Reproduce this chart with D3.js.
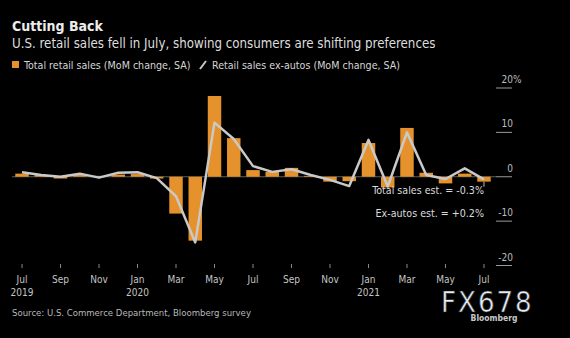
<!DOCTYPE html>
<html>
<head>
<meta charset="utf-8">
<script src="https://cdn.jsdelivr.net/npm/d3@7"></script>
<style>
  html, body { margin: 0; padding: 0; background: #000; }
  svg { display: block; font-family: "DejaVu Sans Condensed", "DejaVu Sans", sans-serif; font-stretch: condensed; }
</style>
</head>
<body>
<svg id="chart" width="570" height="338"></svg>
<script>
// months shown on the x axis, Jul 2019 .. Jul 2021
const months = [
  "2019-07", "2019-08", "2019-09", "2019-10", "2019-11", "2019-12",
  "2020-01", "2020-02", "2020-03", "2020-04", "2020-05", "2020-06",
  "2020-07", "2020-08", "2020-09", "2020-10", "2020-11", "2020-12",
  "2021-01", "2021-02", "2021-03", "2021-04", "2021-05", "2021-06", "2021-07",
];
// total retail sales, MoM % change (bars)
const totalSales = [
  0.7, 0.4, -0.4, 0.5, 0.2, 0.5, 0.6, -0.4, -8.3, -14.4, 18.2, 8.7,
  1.5, 1.1, 2.0, 0.2, -1.1, -1.0, 7.6, -2.4, 11.0, 0.9, -1.5, 0.7, -1.1,
];
// retail sales ex-autos, MoM % change (line)
const exAutos = [
  1.0, 0.4, 0.0, 0.7, -0.2, 0.9, 1.0, -0.3, -4.4, -14.8, 12.2, 8.5,
  2.4, 1.1, 1.7, 0.4, -0.7, -2.1, 8.3, -2.2, 10.0, 0.4, -0.5, 1.9, -0.6,
];
const yTicks = [20, 10, 0, -10, -20];
const xTickMonths = months.filter((d, i) => i % 2 === 0);

const orange = "#e5922c";
const lineColor = "#c9c9c9";

const parseMonth = d3.timeParse("%Y-%m");
const fmtMonth = d3.timeFormat("%b");

const data = months.map((m, i) => ({
  month: m,
  total: totalSales[i],
  ex: exAutos[i],
}));

const svg = d3.select("#chart");

const x = d3.scaleBand()
  .domain(months)
  .range([12.4, 493.6])
  .paddingInner(0.3)
  .paddingOuter(0.15);
const xc = (m) => x(m) + x.bandwidth() / 2;

const y = d3.scaleLinear().domain([-20, 20]).range([265.5, 88]);

// title block
svg.append("text")
  .attr("x", 12).attr("y", 31)
  .attr("fill", "#ececec")
  .attr("font-size", 14).attr("font-weight", "bold")
  .text("Cutting Back");
svg.append("text")
  .attr("x", 12).attr("y", 48)
  .attr("fill", "#dedede")
  .attr("font-size", 13.2)
  .text("U.S. retail sales fell in July, showing consumers are shifting preferences");

// legend
const legend = svg.append("g").attr("font-size", 10.6).attr("fill", "#d6d6d6");
legend.append("rect")
  .attr("x", 12).attr("y", 61).attr("width", 7).attr("height", 7)
  .attr("fill", orange);
legend.append("text").attr("x", 24).attr("y", 69)
  .text("Total retail sales (MoM change, SA)");
legend.append("line")
  .attr("x1", 200).attr("y1", 69).attr("x2", 206).attr("y2", 61)
  .attr("stroke", lineColor).attr("stroke-width", 2);
legend.append("text").attr("x", 212).attr("y", 69)
  .text("Retail sales ex-autos (MoM change, SA)");

// y axis on the right: short rules with labels above
const yAxis = svg.append("g").attr("class", "y-axis");
yAxis.selectAll("line")
  .data(yTicks)
  .join("line")
  .attr("x1", 496).attr("x2", 512)
  .attr("y1", (d) => y(d)).attr("y2", (d) => y(d))
  .attr("stroke", "#9a9a9a");
yAxis.selectAll("text")
  .data(yTicks)
  .join("text")
  .attr("x", 513)
  .attr("y", (d) => y(d) - 5)
  .attr("text-anchor", "end")
  .attr("font-size", 10)
  .attr("fill", "#bdbdbd")
  .text((d) => d);
yAxis.append("text")
  .attr("x", 513).attr("y", y(20) - 5)
  .attr("font-size", 10).attr("fill", "#bdbdbd")
  .text("%");

// zero line
svg.append("line")
  .attr("x1", 12).attr("x2", 496)
  .attr("y1", y(0)).attr("y2", y(0))
  .attr("stroke", "#5e5e5e");

// bars
svg.append("g")
  .selectAll("rect")
  .data(data)
  .join("rect")
  .attr("x", (d) => x(d.month))
  .attr("width", x.bandwidth())
  .attr("y", (d) => y(Math.max(0, d.total)))
  .attr("height", (d) => Math.abs(y(d.total) - y(0)))
  .attr("fill", orange);

// ex-autos line
svg.append("path")
  .datum(data)
  .attr("fill", "none")
  .attr("stroke", lineColor)
  .attr("stroke-width", 2.5)
  .attr("stroke-linejoin", "round")
  .attr("d", d3.line().x((d) => xc(d.month)).y((d) => y(d.ex)));

// estimate annotations
const last = months[months.length - 1];
svg.append("line")
  .attr("x1", xc(last)).attr("x2", xc(last))
  .attr("y1", y(0) + 5).attr("y2", y(0) + 10)
  .attr("stroke", "#bdbdbd");
const notes = svg.append("g")
  .attr("font-size", 10.6).attr("fill", "#dcdcdc").attr("text-anchor", "end");
notes.append("text").attr("x", xc(last)).attr("y", 194)
  .text("Total sales est. = -0.3%");
notes.append("text").attr("x", xc(last)).attr("y", 217)
  .text("Ex-autos est. = +0.2%");

// x axis
const xAxis = svg.append("g").attr("class", "x-axis");
const tick = xAxis.selectAll("g")
  .data(xTickMonths)
  .join("g")
  .attr("transform", (d) => `translate(${xc(d)},0)`);
tick.append("line")
  .attr("y1", 264).attr("y2", 268)
  .attr("stroke", "#8a8a8a");
tick.append("text")
  .attr("y", 283)
  .attr("text-anchor", "middle")
  .attr("font-size", 10)
  .attr("fill", "#c4c4c4")
  .text((d) => fmtMonth(parseMonth(d)));
tick.filter((d) => d.endsWith("-01") || d === months[0])
  .append("text")
  .attr("y", 296)
  .attr("text-anchor", "middle")
  .attr("font-size", 10)
  .attr("fill", "#c4c4c4")
  .text((d) => d.slice(0, 4));

// source
svg.append("text")
  .attr("x", 12).attr("y", 316)
  .attr("font-size", 9.5).attr("fill", "#b8b8b8")
  .text("Source: U.S. Commerce Department, Bloomberg survey");

// watermark and logo
svg.append("text")
  .attr("x", 441).attr("y", 312)
  .attr("font-size", 29)
  .attr("font-family", "DejaVu Sans, sans-serif")
  .attr("letter-spacing", 2)
  .attr("fill", "#e6eef8")
  .attr("stroke", "#2a2a2a").attr("stroke-width", 0.6)
  .text("FX678");
svg.append("text")
  .attr("x", 494).attr("y", 321)
  .attr("text-anchor", "middle")
  .attr("font-size", 8.5).attr("font-weight", "bold")
  .attr("fill", "#c8c8c8")
  .text("Bloomberg");
</script>
</body>
</html>
